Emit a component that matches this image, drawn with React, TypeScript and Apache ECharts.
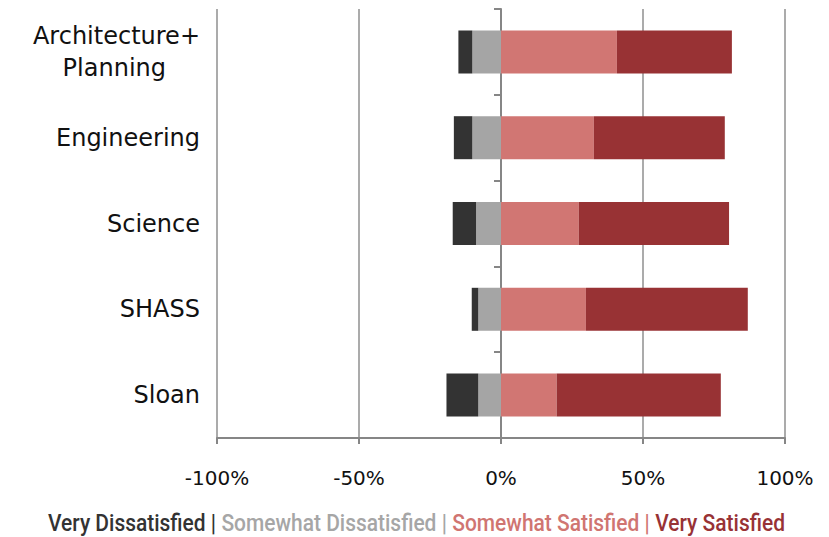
import React, { useEffect, useRef } from "react";
import * as echarts from "echarts";

const categories = ["Architecture+\nPlanning", "Engineering", "Science", "SHASS", "Sloan"];
const veryDissatisfied = [-4.9, -6.5, -8.2, -2.3, -11.2];
const somewhatDissatisfied = [-10.1, -10.1, -8.8, -8.0, -8.0];
const somewhatSatisfied = [40.8, 32.7, 27.4, 29.9, 19.6];
const verySatisfied = [40.5, 46.1, 52.9, 57.0, 57.8];
const xTicks = { min: -100, max: 100, interval: 50 };

const legendParts = [
  { key: "a", text: "Very Dissatisfied | ", color: "#333333" },
  { key: "b", text: "Somewhat Dissatisfied | ", color: "#a6a6a6" },
  { key: "c", text: "Somewhat Satisfied | ", color: "#d07571" },
  { key: "d", text: "Very Satisfied", color: "#983235" },
];

const COLORS = {
  vd: "#333333",
  sd: "#a5a5a5",
  ss: "#d17673",
  vs: "#983234",
};

export default function App() {
  const ref = useRef<HTMLDivElement>(null);
  useEffect(() => {
    if (!ref.current) return;
    const chart = echarts.init(ref.current, undefined, { renderer: "svg" });
    const legendFont = "500 24px Roboto";
    let legendWidth = 900;
    try {
      const c = document.createElement("canvas").getContext("2d");
      if (c) {
        c.font = legendFont;
        legendWidth = c.measureText(legendParts.map((p) => p.text).join("")).width;
      }
    } catch (e) {}
    const targetWidth = 737;
    const sx = targetWidth / legendWidth;
    const rich: any = {};
    legendParts.forEach((p) => {
      rich[p.key] = { fill: p.color, fontFamily: "Roboto", fontSize: 24, fontWeight: 500 };
    });
    const catFont = { fontFamily: "DejaVu Sans", fontSize: 24, color: "#111" };
    const barBase = {
      type: "bar" as const,
      stack: "total",
      barWidth: 43,
    };
    chart.setOption({
      animation: false,
      grid: { left: 217, right: 44, top: 9, bottom: 99, containLabel: false },
      xAxis: {
        type: "value",
        min: xTicks.min,
        max: xTicks.max,
        interval: xTicks.interval,
        axisLine: { show: true, lineStyle: { color: "#868686", width: 2 } },
        axisTick: { show: true, length: 6, lineStyle: { color: "#868686", width: 2 } },
        splitLine: { show: true, lineStyle: { color: "#8f8f8f", width: 1.5 } },
        axisLabel: {
          formatter: "{value}%",
          color: "#111",
          fontFamily: "DejaVu Sans",
          fontSize: 20,
          margin: 30,
        },
      },
      yAxis: [
        {
          type: "category",
          data: categories,
          inverse: true,
          axisLine: { show: true, onZero: true, lineStyle: { color: "#868686", width: 2 } },
          axisTick: { show: true, length: 7, lineStyle: { color: "#868686", width: 2 } },
          axisLabel: { show: false },
        },
        {
          type: "category",
          data: categories,
          inverse: true,
          position: "left",
          axisLine: { show: false, onZero: false },
          axisTick: { show: false },
          axisLabel: {
            margin: 17,
            align: "right",
            formatter: (v: string) => {
              const parts = v.split("\n");
              if (parts.length > 1) return `{n|${parts[0]}}\n{p|${parts[1]}}`;
              return `{n|${v}}`;
            },
            rich: {
              n: { ...catFont, lineHeight: 32 },
              p: { ...catFont, lineHeight: 32, padding: [0, 34, 0, 0] },
            },
          },
        },
      ],
      series: [
        { ...barBase, name: "Somewhat Dissatisfied", data: somewhatDissatisfied, itemStyle: { color: COLORS.sd } },
        { ...barBase, name: "Very Dissatisfied", data: veryDissatisfied, itemStyle: { color: COLORS.vd } },
        { ...barBase, name: "Somewhat Satisfied", data: somewhatSatisfied, itemStyle: { color: COLORS.ss } },
        { ...barBase, name: "Very Satisfied", data: verySatisfied, itemStyle: { color: COLORS.vs } },
      ],
      graphic: [
        {
          type: "text",
          x: 48,
          y: 523,
          scaleX: sx,
          style: {
            text: legendParts.map((p) => `{${p.key}|${p.text}}`).join(""),
            rich,
            font: legendFont,
            verticalAlign: "middle",
          },
        },
      ],
    });
    return () => chart.dispose();
  }, []);
  return (
    <div
      ref={ref}
      style={{ position: "absolute", left: 0, top: 0, width: 829, height: 537, background: "#fff" }}
    />
  );
}
